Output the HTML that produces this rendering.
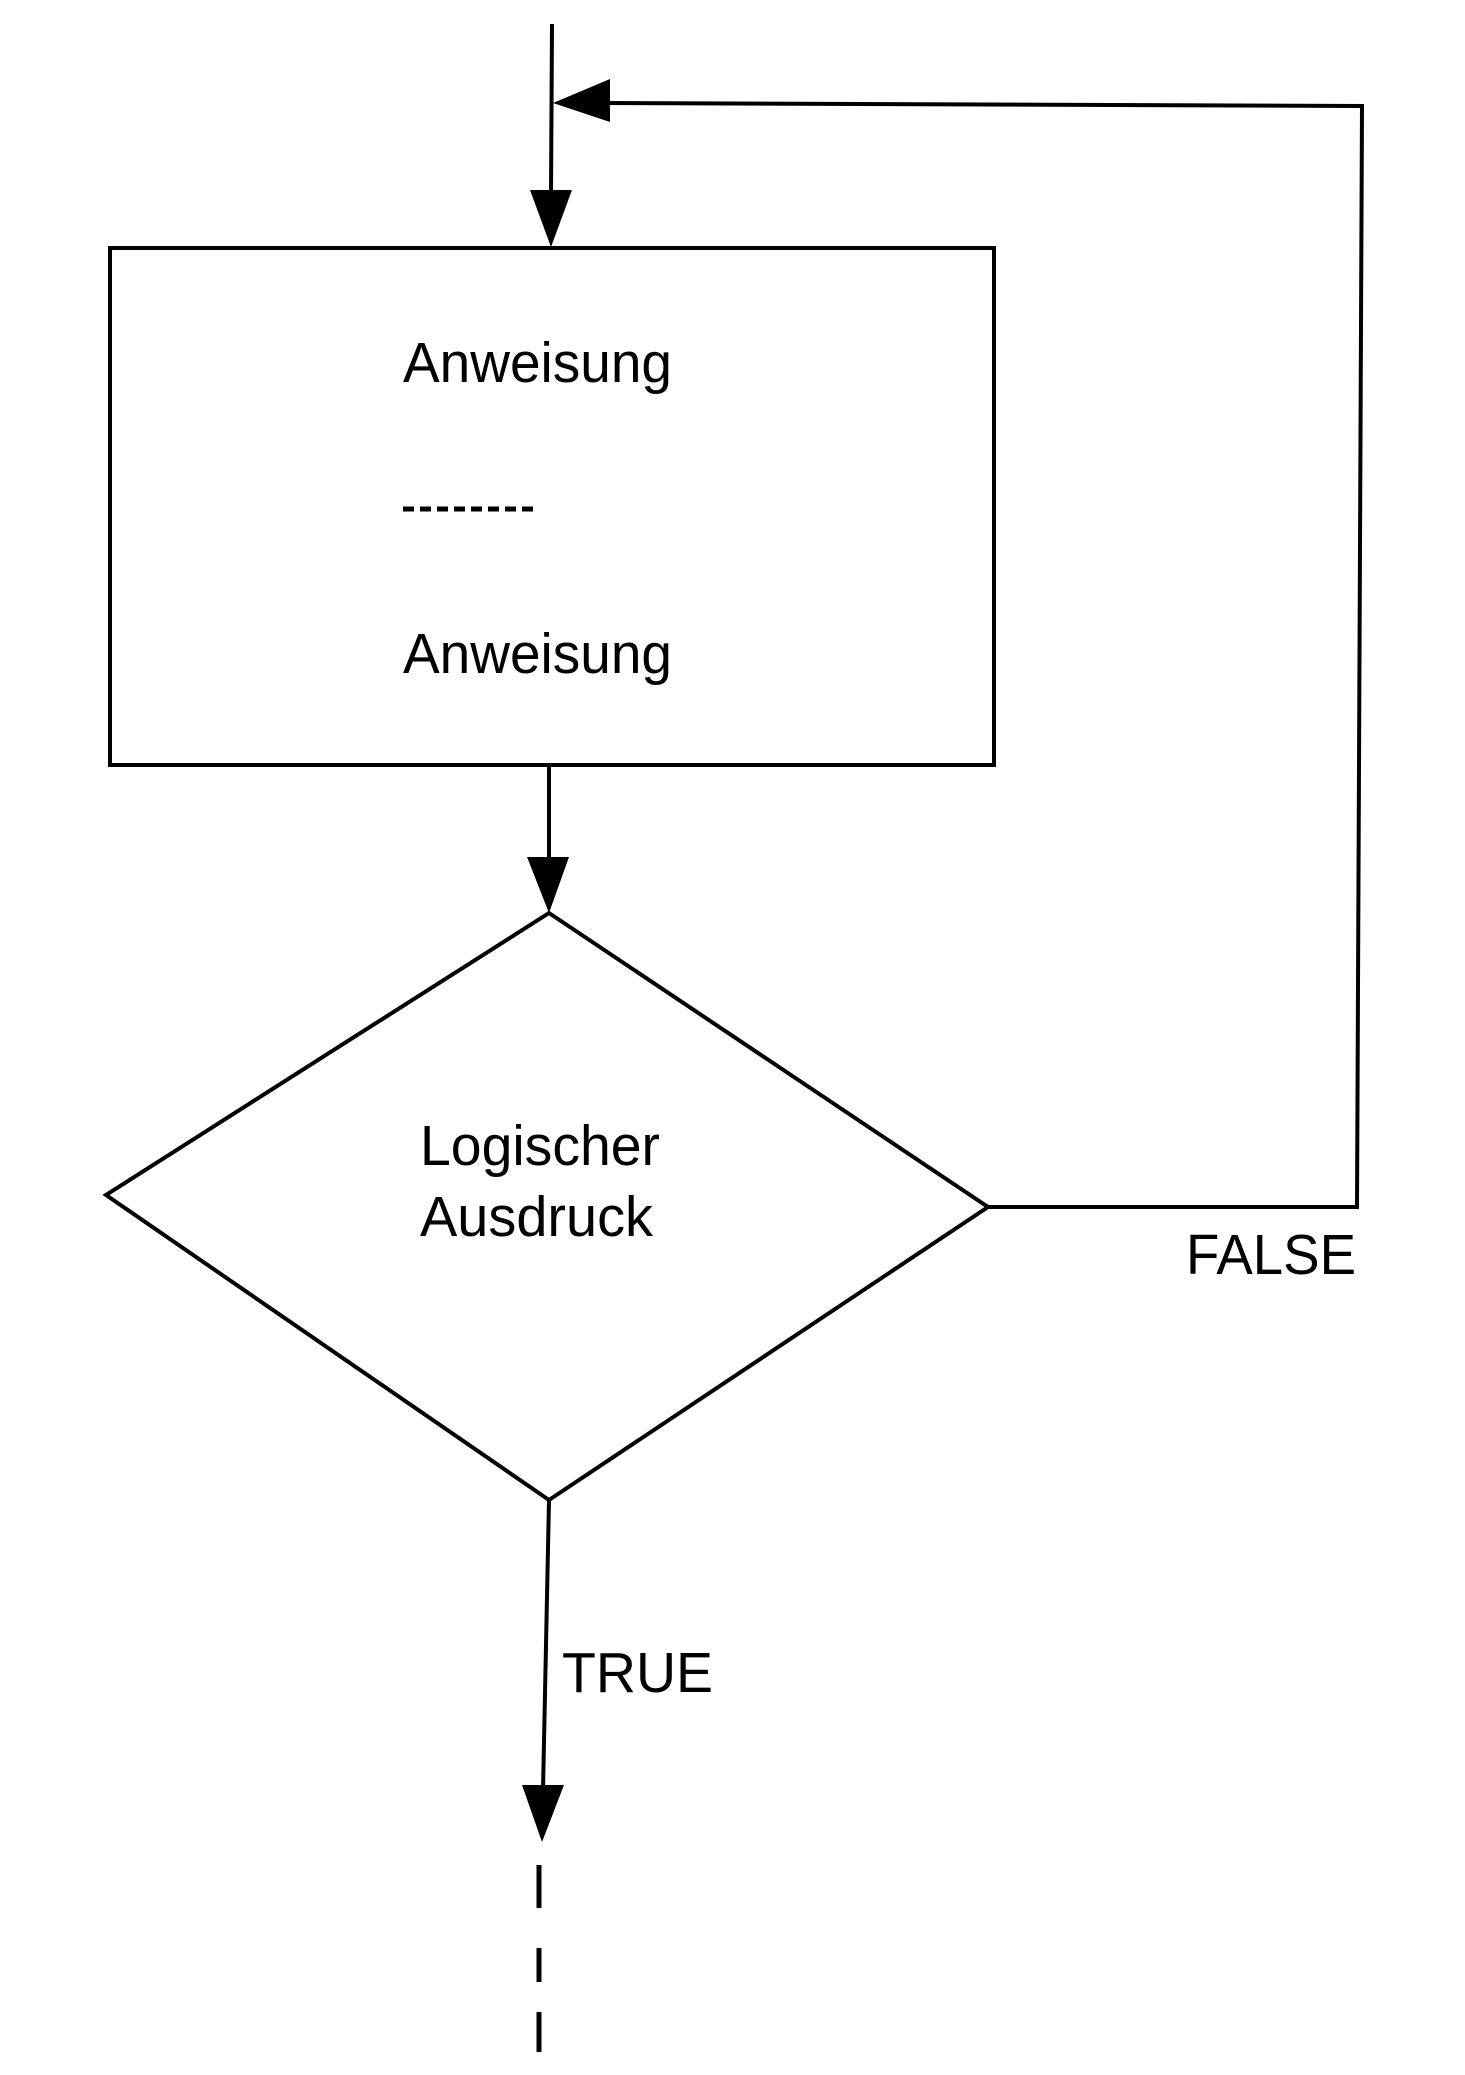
<!DOCTYPE html>
<html><head><meta charset="utf-8"><style>html,body{margin:0;padding:0;background:#fff}svg{display:block}</style></head>
<body>
<svg width="1465" height="2075" viewBox="0 0 1465 2075" xmlns="http://www.w3.org/2000/svg">
<g stroke="#000" fill="none" stroke-width="4">
  <line x1="552" y1="24" x2="551" y2="195"/>
  <polyline points="600,103 1362,106 1357,1207 988,1207"/>
  <rect x="110" y="248" width="884" height="517"/>
  <line x1="549" y1="765" x2="549" y2="860"/>
  <polygon points="549,913 988,1207 549,1500 106,1195" stroke-width="4"/>
  <line x1="549" y1="1500" x2="543" y2="1790"/>
  <g stroke-width="5">
    <line x1="539" y1="1865" x2="539" y2="1908"/>
    <line x1="539" y1="1948" x2="539" y2="1982"/>
    <line x1="539" y1="2012" x2="539" y2="2052"/>
  </g>
  <line x1="403" y1="509" x2="535" y2="509" stroke-width="5" stroke-dasharray="11,6"/>
</g>
<g fill="#000">
  <polygon points="553,103 610,79 610,122"/>
  <polygon points="530,190 572,190 551,247"/>
  <polygon points="527,857 569,857 549,913"/>
  <polygon points="522,1785 564,1785 542,1842"/>
</g>
<g font-family="'Liberation Sans', sans-serif" font-size="57" fill="#000">
  <text x="403" y="382" textLength="269" lengthAdjust="spacingAndGlyphs">Anweisung</text>
  <text x="403" y="673" textLength="269" lengthAdjust="spacingAndGlyphs">Anweisung</text>
  <text x="420" y="1165" textLength="240" lengthAdjust="spacingAndGlyphs">Logischer</text>
  <text x="420" y="1236" textLength="233" lengthAdjust="spacingAndGlyphs">Ausdruck</text>
  <text x="1186" y="1274" textLength="170" lengthAdjust="spacingAndGlyphs">FALSE</text>
  <text x="562" y="1692" textLength="151" lengthAdjust="spacingAndGlyphs">TRUE</text>
</g>
</svg>
</body></html>
